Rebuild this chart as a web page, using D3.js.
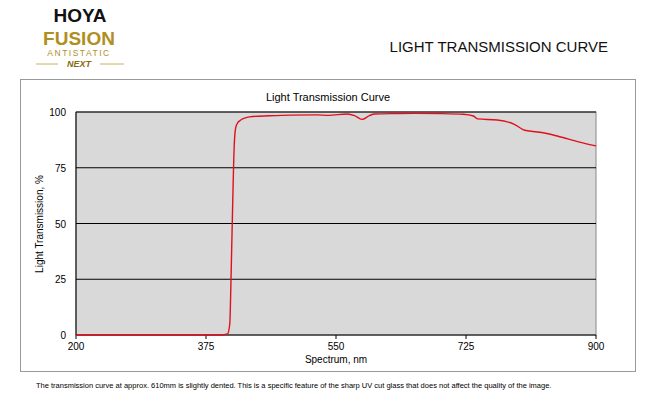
<!DOCTYPE html><html><head><meta charset="utf-8"><script src="https://cdn.jsdelivr.net/npm/d3@7"></script>
<style>body{margin:0;background:#fff;font-family:Arial,"Liberation Sans",sans-serif}</style></head><body><svg id="c" width="658" height="411"></svg><script>
const wavelengths=[200,300,375,395,404,407,409,411,413,415,418,421,425,430,438,460,490,524,540,565,575,585,595,602,630,656,690,721,735,741,767,790,804,829,850,878,900];
const transmission=[0,0,0,0,0.5,5,30,60,85,93,95.3,96.2,97,97.6,98,98.3,98.6,98.7,98.5,99.1,98.4,96.7,98.4,99.1,99.3,99.4,99.3,99,98.2,96.9,96.4,94.5,91.8,90.7,89,86.5,84.8];
const xTicks=[200,375,550,725,900], yTicks=[0,25,50,75,100];
const svg=d3.select("#c");
svg.append("text").attr("x",80).attr("y",22).attr("text-anchor","middle").attr("font-size",19).attr("font-weight","bold").attr("fill","#111").text("HOYA");
svg.append("text").attr("x",79).attr("y",45).attr("text-anchor","middle").attr("font-size",19).attr("font-weight","bold").attr("fill","#b08f1e").text("FUSION");
svg.append("text").attr("x",79).attr("y",56).attr("text-anchor","middle").attr("font-size",8.5).attr("letter-spacing",1.5).attr("fill","#b08f1e").text("ANTISTATIC");
svg.append("text").attr("x",79).attr("y",67).attr("text-anchor","middle").attr("font-size",9).attr("font-weight","bold").attr("font-style","italic").attr("fill","#8a6c10").text("NEXT");
svg.append("line").attr("x1",36).attr("x2",58).attr("y1",64).attr("y2",64).attr("stroke","#c8b060");
svg.append("line").attr("x1",100).attr("x2",124).attr("y1",64).attr("y2",64).attr("stroke","#c8b060");
svg.append("text").attr("x",608).attr("y",52).attr("text-anchor","end").attr("font-size",15).attr("fill","#111").text("LIGHT TRANSMISSION CURVE");
svg.append("rect").attr("x",20.5).attr("y",79.5).attr("width",615).attr("height",292).attr("fill","#fff").attr("stroke","#999");
svg.append("text").attr("x",328).attr("y",101).attr("text-anchor","middle").attr("font-size",11).text("Light Transmission Curve");
const x=d3.scaleLinear().domain([200,900]).range([76,596]);
const y=d3.scaleLinear().domain([0,100]).range([335,112]);
svg.append("rect").attr("x",76).attr("y",112).attr("width",520).attr("height",223).attr("fill","#d9d9d9").attr("stroke","#888");
svg.append("g").selectAll("line").data(yTicks.slice(1)).join("line").attr("x1",76).attr("x2",596).attr("y1",d=>y(d)).attr("y2",d=>y(d)).attr("stroke","#000");
svg.append("line").attr("x1",76).attr("x2",596).attr("y1",335).attr("y2",335).attr("stroke","#000");
svg.append("line").attr("x1",76).attr("x2",76).attr("y1",112).attr("y2",335).attr("stroke","#000");
svg.append("g").selectAll("text").data(yTicks).join("text").attr("x",66).attr("y",d=>y(d)+4).attr("text-anchor","end").attr("font-size",10).text(d=>d);
svg.append("g").selectAll("text").data(xTicks).join("text").attr("x",d=>x(d)).attr("y",350).attr("text-anchor","middle").attr("font-size",10).text(d=>d);
svg.append("g").selectAll("line").data(xTicks).join("line").attr("x1",d=>x(d)).attr("x2",d=>x(d)).attr("y1",335).attr("y2",339).attr("stroke","#000");
svg.append("text").attr("x",336).attr("y",363).attr("text-anchor","middle").attr("font-size",10).text("Spectrum, nm");
svg.append("text").attr("transform","translate(43,224) rotate(-90)").attr("text-anchor","middle").attr("font-size",10).text("Light Transmission, %");
svg.append("path").datum(wavelengths.map((w,i)=>[w,transmission[i]])).attr("fill","none").attr("stroke","#e0101e").attr("stroke-width",1.4)
 .attr("d",d3.line().x(d=>x(d[0])).y(d=>y(d[1])).curve(d3.curveMonotoneX));
svg.append("text").attr("x",36).attr("y",388).attr("font-size",7.5).text("The transmission curve at approx. 610mm is slightly dented. This is a specific feature of the sharp UV cut glass that does not affect the quality of the image.");
</script></body></html>
